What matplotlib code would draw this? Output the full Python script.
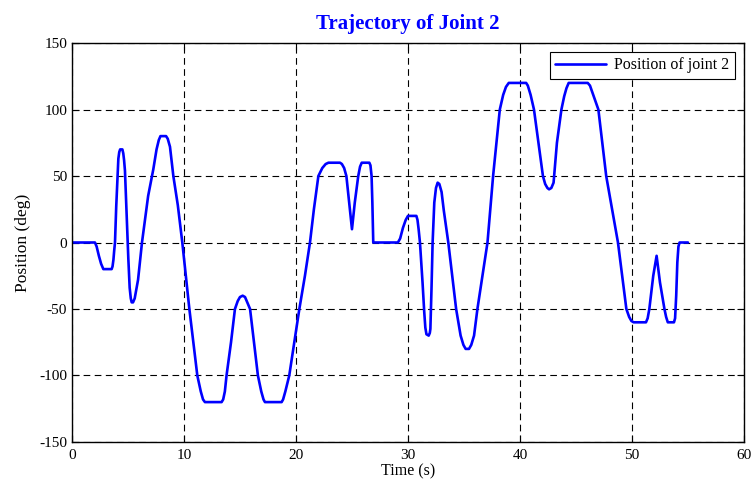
import numpy as np
import matplotlib
matplotlib.use("Agg")
import matplotlib.pyplot as plt

plt.rcParams['font.family'] = ['Liberation Serif', 'DejaVu Serif']
plt.rcParams['axes.unicode_minus'] = False

# joint 2 position samples: time (s) and angle (deg)
time_s = [
    0.0, 2.05, 2.2, 2.4, 2.6, 2.8, 3.54, 3.62, 3.7, 3.77, 3.84, 3.95, 4.14, 4.22, 4.3,
    4.5, 4.58, 4.65, 4.73, 4.88, 5.03, 5.15, 5.25, 5.33, 5.45, 5.6, 5.9, 6.25, 6.6, 6.8,
    7.26, 7.55, 7.75, 7.9, 8.4, 8.55, 8.75, 9.05, 9.45, 9.85, 10.48, 11.19, 11.5, 11.7,
    11.87, 13.36, 13.5, 13.65, 13.8, 14.2, 14.55, 14.8, 15.0, 15.24, 15.45, 15.65, 15.9,
    16.25, 16.6, 16.9, 17.1, 17.23, 18.72, 18.85, 19.05, 19.4, 19.85, 20.3, 20.8, 21.25,
    21.6, 22.0, 22.35, 22.65, 22.9, 23.93, 24.1, 24.3, 24.5, 24.75, 25.0, 25.25,
    25.56, 25.72, 25.87, 26.55, 26.65, 26.75, 26.82, 26.9, 29.1, 29.3, 29.55, 29.8, 30.0,
    30.75, 30.85, 30.95, 31.07, 31.3, 31.45, 31.55, 31.65, 31.85, 31.95, 32.0, 32.1, 32.2,
    32.35, 32.5, 32.65, 32.8, 33.0, 33.2, 33.6, 34.3, 34.7, 34.95, 35.15, 35.45, 35.65,
    35.9, 36.2, 37.1, 37.6, 38.2, 38.5, 38.75, 39.0, 40.55, 40.7, 40.95, 41.25, 41.7,
    42.05, 42.25, 42.45, 42.6, 42.8, 43.0, 43.3, 43.7, 43.95, 44.15, 44.35, 46.05, 46.25,
    46.5, 47.0, 47.7, 48.75, 49.5, 49.75, 49.95, 50.15, 51.25, 51.4, 51.55, 51.9, 52.2,
    52.5, 52.9, 53.05, 53.2, 53.75, 53.85, 53.95, 54.05, 54.15, 54.25, 55.0,
]
position_deg = [
    0, 0, -3, -10, -16, -20, -20, -18, -13, -6, 0, 27, 63, 68, 70,
    70, 67, 62, 54, 20, -12, -34, -42, -45, -45, -42, -28, 0, 22, 35,
    55, 70, 77, 80, 80, 78, 72, 50, 28, 0, -50, -100, -112, -118,
    -120, -120, -118, -112, -100, -75, -50, -44, -41, -40, -41, -45, -50,
    -75, -100, -112, -118, -120, -120, -118, -112, -100, -75, -50, -25, 0,
    25, 50, 56, 59, 60, 60, 59, 56, 50, 30, 10, 30,
    50, 57, 60, 60, 58, 50, 30, 0, 0, 3, 11, 17, 20,
    20, 17, 10, 0, -30, -52, -64, -69, -70, -68, -65, -35, 0,
    30, 41, 45, 44, 38, 24, 0, -50, -70, -77, -80, -80, -77,
    -70, -50, 0, 50, 100, 111, 117, 120, 120, 118, 111, 100, 72,
    50, 44, 41, 40, 41, 45, 75, 100, 110, 116, 120, 120, 118,
    112, 100, 50, 0, -50, -56, -59, -60, -60, -57, -50, -25, -10,
    -30, -50, -56, -60, -60, -57, -40, -15, -3, 0, 0,
]

x_ticks = [0, 10, 20, 30, 40, 50, 60]
y_ticks = [-150, -100, -50, 0, 50, 100, 150]

fig = plt.figure(figsize=(7.53, 4.84), dpi=100)
ax = fig.add_axes([0.0956, 0.0868, 0.8924, 0.8243])

ax.plot(time_s, position_deg, color='#0000ff', lw=1.9, label='Position of joint 2',
        solid_joinstyle='round', solid_capstyle='round')

ax.set_xlim(0, 60)
ax.set_ylim(-150, 150)
ax.set_xticks(x_ticks)
ax.set_yticks(y_ticks)
ax.tick_params(direction='in', top=True, right=True, length=5, labelsize=11, width=0.8)
ax.tick_params(axis='x', pad=5)
ax.grid(True, color='black', linestyle=(0, (6, 4)), linewidth=0.8)
for s in ax.spines.values():
    s.set_linewidth(1.0)

ax.set_xlabel('Time (s)', fontsize=11.5, labelpad=1)
ax.set_ylabel('Position (deg)', fontsize=12.5, labelpad=6)
ax.set_title('Trajectory of Joint 2', color='#0000ff', fontweight='bold', fontsize=15, pad=10)

leg = ax.legend(loc='upper right', fontsize=11.5, frameon=True, fancybox=False,
                framealpha=1, edgecolor='black', handlelength=3.2, handletextpad=0.5,
                borderpad=0.35, borderaxespad=0.55)
leg.get_frame().set_linewidth(0.8)

fig.savefig('out.png', dpi=100)
